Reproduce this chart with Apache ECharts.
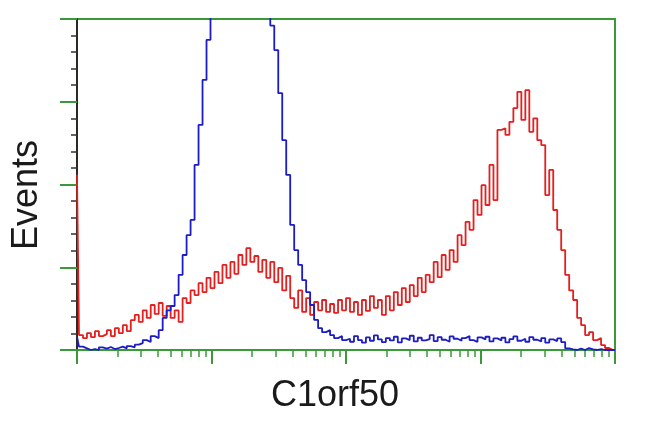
<!DOCTYPE html>
<html>
<head>
<meta charset="utf-8">
<script src="https://cdn.jsdelivr.net/npm/echarts@6/dist/echarts.min.js"></script>
<style>
  html, body { margin: 0; background: #fff; }
  #chart { width: 650px; height: 432px; }
</style>
</head>
<body>
<div id="chart"></div>
<script>
// histogram counts per channel, channels spread evenly over 4 log decades
var decades = 4;
var redCounts = [
  53, 4.5, 3.6, 5.1, 3.9, 5.7, 4.2, 4.8, 6, 4.2,
  6.6, 5.1, 7.5, 5.7, 9, 10.6, 8.5, 12, 9.7, 13.6,
  10.9, 14.2, 10.3, 13.3, 9.7, 12, 8.5, 15.7, 14.2, 18,
  16.6, 20.2, 17.5, 21.8, 18.7, 23.6, 20.2, 25.7, 21.8, 26.6,
  23, 28.7, 25.7, 30.8, 26.6, 28.4, 23.6, 27.2, 21.8, 26.6,
  20.5, 24.8, 18, 22.4, 15.7, 12.7, 18, 11.5, 15.7, 10.6,
  14.5, 12, 15.1, 11.5, 13.9, 11.2, 15.1, 12, 15.7, 11.5,
  14.5, 10.6, 15.1, 11.8, 16.3, 12.7, 15.1, 10.6, 16.3, 12,
  17.5, 13.6, 18.7, 14.5, 19.6, 16.3, 21.8, 17.5, 22.7, 20.5,
  26.6, 22, 28.7, 24.2, 30.2, 26.6, 34.7, 31.7, 38.7, 36.3,
  45.3, 40.8, 49.8, 43.8, 55.9, 45.3, 66.5, 67, 65, 68.9,
  73.1, 78, 69.5, 78.5, 65.9, 70, 63.4, 61.9, 46.8, 54.4,
  42.3, 36.3, 30.2, 22.7, 18, 15.1, 9.7, 7.5, 4.5, 5.4,
  3, 3.6, 1.5, 0.6, 0, 0
];
var blueCounts = [
  4, 1, 0.5, 0, 0.3, 0, 0.8, 0.4, 0.9, 0.3,
  0.6, 1, 0.5, 1.2, 0.8, 1.6, 2.1, 3, 2.4, 4.2,
  3.6, 6, 9.7, 12, 13.3, 16.6, 22.7, 28.7, 34.7, 39.3,
  55.9, 68, 81.6, 93.7, 104, 120, 135, 150, 162, 170,
  175, 178, 176, 170, 162, 150, 138, 125, 112, 98,
  90.6, 77.6, 63.4, 52.9, 37.8, 30.2, 25.7, 21.1, 17.5, 13.6,
  9.1, 6.6, 5.4, 6, 4.5, 3.6, 4.2, 3, 3.4, 2.5,
  4.2, 3, 2.2, 3.8, 2.8, 4.4, 3.2, 2.4, 3.6, 2.9,
  4, 2.3, 3.5, 3, 4.3, 2.6, 3.7, 2.9, 3.3, 4.5,
  2.7, 3.9, 3.1, 2.5, 4.1, 3.4, 2.8, 3.6, 4.2, 3,
  2.4, 3.8, 3.2, 4, 2.6, 3.5, 2.9, 3.7, 2.3, 3.3,
  4.1, 2.8, 3.4, 2.5, 3.9, 3.1, 2.6, 3.6, 2.2, 3.2,
  2.7, 3.5, 2.4, 0.5, 0.2, 0, 0.4, 0, 0.6, 0.2,
  0, 0.3, 0, 0, 0, 0
];
var majorTicks = [0, 1, 2, 3, 4];
var minorTicks = [];
for (var d = 0; d < decades; d++) {
  for (var k = 2; k <= 9; k++) minorTicks.push(d + Math.log10(k));
}
var xTitle = 'C1orf50';
var yTitle = 'Events';

function toPairs(counts) {
  return counts.map(function (v, i) {
    return [i * decades / (counts.length - 1), v];
  });
}

var green = '#3a9a3a';
var titleFont = { fontFamily: 'Liberation Sans', fontSize: 36, fill: '#1a1a1a' };
var chart = echarts.init(document.getElementById('chart'));
chart.setOption({
  animation: false,
  grid: {
    left: 77, right: 35, top: 19, bottom: 82,
    show: true, borderColor: green, borderWidth: 2
  },
  graphic: [{
    type: 'text', x: 335, y: 396,
    style: Object.assign({ text: xTitle, align: 'center', verticalAlign: 'middle' }, titleFont)
  }, {
    type: 'text', x: 27, y: 195, rotation: Math.PI / 2,
    style: Object.assign({ text: yTitle, align: 'center', verticalAlign: 'middle' }, titleFont)
  }],
  xAxis: [{
    type: 'value', position: 'bottom', min: 0, max: decades, interval: 1,
    axisLine: { lineStyle: { color: green, width: 2 } },
    axisTick: { length: 14, lineStyle: { color: green, width: 2 }, customValues: majorTicks },
    axisLabel: { show: false },
    splitLine: { show: false }
  }, {
    type: 'value', position: 'bottom', min: 0, max: decades,
    axisLine: { show: false },
    axisTick: { length: 7, lineStyle: { color: green, width: 1.5 }, customValues: minorTicks },
    axisLabel: { show: false },
    splitLine: { show: false }
  }],
  yAxis: {
    type: 'value', min: 0, max: 100, interval: 25,
    axisLine: { show: true, lineStyle: { color: '#2a2a22', width: 2 } },
    axisTick: { show: true, length: 17, lineStyle: { color: green, width: 2 } },
    minorTick: { show: true, splitNumber: 5, length: 6, lineStyle: { color: '#333', width: 1.5 } },
    axisLabel: { show: false },
    splitLine: { show: false }
  },
  series: [{
    type: 'line', xAxisIndex: 0, data: toPairs(redCounts), step: 'middle',
    showSymbol: false, lineStyle: { color: '#e51e1e', width: 1.8 }
  }, {
    type: 'line', xAxisIndex: 0, data: toPairs(blueCounts), step: 'middle',
    showSymbol: false, lineStyle: { color: '#1c1cc4', width: 1.8 }
  }]
});
</script>
</body>
</html>
